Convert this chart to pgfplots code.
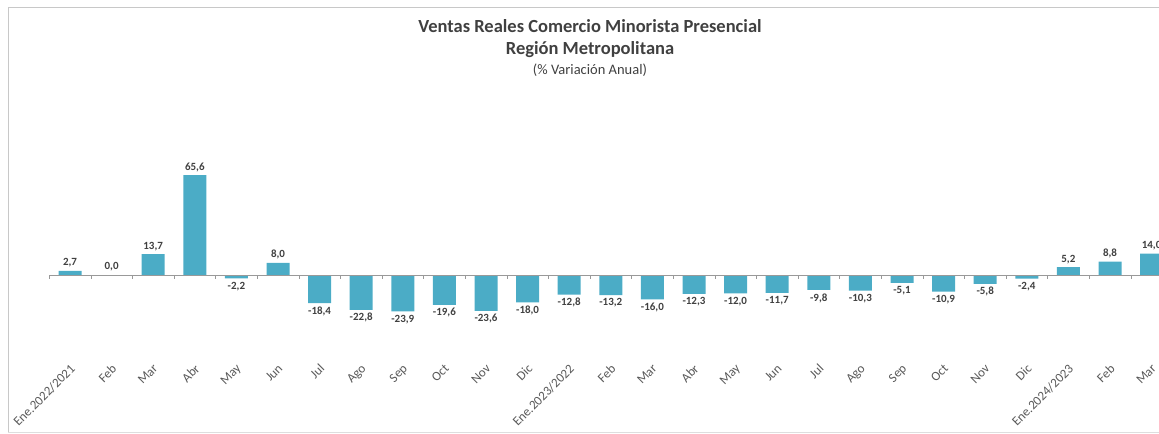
\documentclass[border=0pt]{standalone}
\usepackage{pgfplots}
\pgfplotsset{compat=1.18}
\usepackage{fontspec}
\setmainfont{Carlito}
\definecolor{barblue}{RGB}{75,172,198}
\definecolor{labgray}{RGB}{64,64,64}
\definecolor{tickgray}{RGB}{89,89,89}
\definecolor{framegray}{RGB}{200,200,200}
\begin{document}
\begin{tikzpicture}
\begin{axis}[
    at={(28.4bp,82.8bp)}, anchor=south west,
    scale only axis, width=1144bp, height=198.1bp,
    xmin=-1, xmax=26.5, ymin=-50, ymax=80,
    ybar, bar width=23bp, bar shift=0pt,
    axis line style={draw=none},
    ytick=\empty, tick style={draw=none}, major tick length=0pt,
    xtick={0,...,26},
    xticklabels={Ene.2022/2021,Feb,Mar,Abr,May,Jun,Jul,Ago,Sep,Oct,Nov,Dic,
      Ene.2023/2022,Feb,Mar,Abr,May,Jun,Jul,Ago,Sep,Oct,Nov,Dic,
      Ene.2024/2023,Feb,Mar},
    xticklabel style={rotate=45, anchor=north east, inner sep=1bp, yshift=-7bp,
      xshift=-8bp, font=\fontsize{13bp}{15bp}\selectfont, text=tickgray},
    clip=false,
    nodes near coords={\pgfmathprintnumber[assume math mode=true]{\pgfplotspointmeta}},
    every node near coord/.append style={font=\fontsize{11bp}{13bp}\selectfont\bfseries,
      text=labgray},
    /pgf/number format/.cd, fixed, fixed zerofill, precision=1, use comma,
]
\addplot[fill=barblue, draw=none] coordinates {
(0,2.7) (1,0.0) (2,13.7) (3,65.6) (4,-2.2) (5,8.0) (6,-18.4) (7,-22.8) (8,-23.9)
(9,-19.6) (10,-23.6) (11,-18.0) (12,-12.8) (13,-13.2) (14,-16.0) (15,-12.3)
(16,-12.0) (17,-11.7) (18,-9.8) (19,-10.3) (20,-5.1) (21,-10.9) (22,-5.8)
(23,-2.4) (24,5.2) (25,8.8) (26,14.0)
};
\draw[gray!80] (axis cs:-0.5,0) -- (axis cs:26.5,0);
\pgfplotsinvokeforeach{-0.5,0.5,...,26.5}{
  \draw[gray!80] (axis cs:#1,0) -- (axis cs:#1,-2.6);
}
\end{axis}
\draw[framegray] (8bp,2bp) -- (8bp,427bp) -- (1165bp,427bp);
\draw[framegray!60] (8bp,2bp) -- (1165bp,2bp);
\node[anchor=base, font=\fontsize{18.5bp}{21bp}\selectfont\bfseries, text=labgray]
  at (590bp,401bp) {Ventas Reales Comercio Minorista Presencial};
\node[anchor=base, font=\fontsize{18.5bp}{21bp}\selectfont\bfseries, text=labgray]
  at (590bp,379bp) {Región Metropolitana};
\node[anchor=base, font=\fontsize{14.5bp}{16bp}\selectfont, text=labgray]
  at (590bp,359bp) {(\% Variación Anual)};
\pgfresetboundingbox
\useasboundingbox (0,0) rectangle (1159bp,434bp);
\end{tikzpicture}
\end{document}
